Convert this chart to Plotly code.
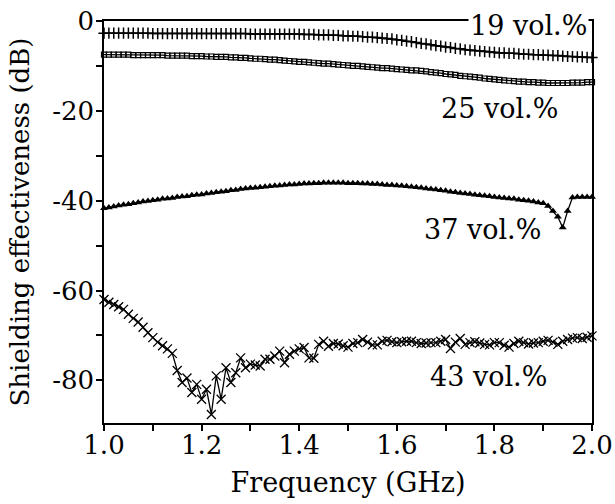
import plotly.graph_objects as go

freq = [round(1.0 + 0.01 * i, 2) for i in range(101)]

se_19 = [
    -2.7, -2.7, -2.7, -2.7, -2.7, -2.7, -2.7, -2.7, -2.7, -2.7,
    -2.8, -2.8, -2.8, -2.8, -2.8, -2.8, -2.8, -2.8, -2.8, -2.8,
    -2.8, -2.8, -2.8, -2.8, -2.8, -2.8, -2.8, -2.8, -2.8, -2.8,
    -2.9, -2.9, -2.9, -2.9, -2.9, -2.9, -2.9, -2.9, -2.9, -2.9,
    -2.9, -3.0, -3.0, -3.0, -3.1, -3.1, -3.1, -3.2, -3.2, -3.3,
    -3.3, -3.4, -3.4, -3.5, -3.6, -3.6, -3.7, -3.8, -3.9, -4.0,
    -4.2, -4.3, -4.5, -4.6, -4.8, -5.0, -5.1, -5.3, -5.5, -5.6,
    -5.8, -5.9, -6.1, -6.2, -6.4, -6.5, -6.6, -6.7, -6.8, -6.9,
    -7.0, -7.1, -7.1, -7.2, -7.2, -7.3, -7.4, -7.4, -7.5, -7.5,
    -7.6, -7.6, -7.7, -7.7, -7.8, -7.9, -7.9, -8.0, -8.0, -8.1,
    -8.1,
]

se_25 = [
    -7.5, -7.5, -7.5, -7.5, -7.5, -7.5, -7.6, -7.6, -7.6, -7.6,
    -7.6, -7.6, -7.6, -7.7, -7.7, -7.7, -7.7, -7.7, -7.8, -7.8,
    -7.8, -7.9, -7.9, -8.0, -8.0, -8.0, -8.1, -8.1, -8.2, -8.2,
    -8.3, -8.4, -8.4, -8.5, -8.6, -8.6, -8.7, -8.8, -8.9, -9.0,
    -9.1, -9.1, -9.2, -9.3, -9.4, -9.5, -9.5, -9.6, -9.7, -9.8,
    -9.9, -10.0, -10.0, -10.1, -10.2, -10.3, -10.4, -10.5, -10.5, -10.6,
    -10.7, -10.8, -10.9, -11.0, -11.0, -11.1, -11.2, -11.4, -11.5, -11.6,
    -11.8, -11.9, -12.0, -12.2, -12.3, -12.4, -12.5, -12.6, -12.8, -12.9,
    -13.0, -13.1, -13.2, -13.3, -13.4, -13.5, -13.5, -13.6, -13.6, -13.7,
    -13.7, -13.8, -13.8, -13.8, -13.8, -13.8, -13.7, -13.7, -13.7, -13.6,
    -13.6,
]

se_37 = [
    -41.7, -41.5, -41.3, -41.1, -40.9, -40.8, -40.6, -40.4, -40.2, -40.1,
    -39.9, -39.8, -39.6, -39.5, -39.4, -39.2, -39.1, -39.0, -38.8, -38.7,
    -38.6, -38.4, -38.3, -38.1, -38.0, -37.9, -37.7, -37.6, -37.4, -37.3,
    -37.2, -37.1, -37.0, -36.9, -36.8, -36.7, -36.6, -36.5, -36.4, -36.4,
    -36.3, -36.2, -36.2, -36.1, -36.1, -36.0, -36.0, -36.0, -36.0, -36.0,
    -36.1, -36.1, -36.1, -36.2, -36.2, -36.3, -36.3, -36.4, -36.5, -36.5,
    -36.6, -36.7, -36.8, -36.9, -37.0, -37.1, -37.3, -37.4, -37.5, -37.7,
    -37.8, -38.0, -38.1, -38.3, -38.4, -38.5, -38.7, -38.8, -38.9, -39.0,
    -39.2, -39.3, -39.4, -39.5, -39.6, -39.8, -39.9, -40.0, -40.2, -40.4,
    -40.6, -41.2, -42.3, -43.6, -46.0, -42.3, -39.3, -39.2, -39.2, -39.2,
    -39.2,
]

se_43 = [
    -62.0, -62.6, -63.1, -63.6, -64.2, -65.3, -66.2, -67.0, -68.2, -69.4,
    -70.5, -71.5, -72.3, -73.0, -74.0, -77.8, -80.5, -79.5, -82.7, -80.9,
    -84.2, -82.0, -87.6, -79.0, -84.2, -77.2, -80.5, -78.3, -75.0, -77.2,
    -76.4, -76.6, -76.8, -75.3, -75.3, -74.6, -73.5, -76.1, -74.2, -73.5,
    -73.0, -72.7, -75.0, -75.1, -72.0, -71.3, -72.4, -71.8, -71.9, -72.3,
    -72.6, -71.8, -71.6, -70.9, -71.5, -72.1, -72.1, -71.3, -71.1, -71.4,
    -71.6, -71.4, -71.3, -71.3, -71.6, -71.8, -71.7, -71.6, -71.6, -71.3,
    -70.9, -72.9, -71.5, -70.7, -72.0, -71.6, -71.4, -71.7, -72.0, -72.1,
    -71.6, -71.6, -72.2, -72.6, -71.8, -71.3, -71.6, -71.9, -71.7, -71.6,
    -71.3, -71.1, -71.5, -72.0, -71.3, -70.9, -70.6, -70.5, -70.7, -70.4,
    -70.1,
]

labels = ["19 vol.%", "25 vol.%", "37 vol.%", "43 vol.%"]
label_x = [1.869, 1.811, 1.775, 1.787]
label_y = [-1.1, -19.4, -46.5, -79.1]

x_ticks = [1.0, 1.2, 1.4, 1.6, 1.8, 2.0]
x_ticktext = ["1.0", "1.2", "1.4", "1.6", "1.8", "2.0"]
x_minor = [1.1, 1.3, 1.5, 1.7, 1.9]
y_ticks = [0, -20, -40, -60, -80]
y_ticktext = ["0", "-20", "-40", "-60", "-80"]
y_minor = [-10, -30, -50, -70]

FONT = "DejaVu Serif"

fig = go.Figure()

series = [
    (se_19, "cross-thin", 8, 1.5),
    (se_25, "square-open", 5, 1.2),
    (se_37, "triangle-up", 7, 0),
    (se_43, "x-thin", 9, 1.3),
]
for (vals, sym, size, lw), name in zip(series, labels):
    fig.add_trace(go.Scatter(
        x=freq, y=vals, mode="lines+markers", name=name,
        line=dict(color="black", width=1.3),
        marker=dict(symbol=sym, size=size, color="black",
                    line=dict(color="black", width=lw)),
        cliponaxis=False,
    ))

for t, xx, yy in zip(labels, label_x, label_y):
    fig.add_annotation(
        x=xx, y=yy, xref="x", yref="y", text=t, showarrow=False,
        xanchor="center", yanchor="middle",
        font=dict(family=FONT, size=27, color="black"),
        bgcolor="white", borderpad=1,
    )

fig.update_layout(
    width=615, height=504,
    margin=dict(l=104, r=23, t=21, b=81),
    paper_bgcolor="white", plot_bgcolor="white",
    showlegend=False,
    font=dict(family=FONT, color="black"),
)

fig.update_xaxes(
    range=[1.0, 2.0], tickvals=x_ticks, ticktext=x_ticktext,
    ticks="outside", ticklen=6, tickcolor="black", tickwidth=1.5,
    minor=dict(tickvals=x_minor, ticks="outside", ticklen=6, tickcolor="black", tickwidth=1.5),
    showline=True, linecolor="black", linewidth=1.5, mirror=True,
    showgrid=False, zeroline=False, automargin=False,
    ticklabelstandoff=-8, ticklabeloverflow="allow",
    tickfont=dict(family=FONT, size=26, color="black"),
    title=dict(text="Frequency (GHz)", font=dict(family=FONT, size=27, color="black"), standoff=14),
)
fig.update_yaxes(
    range=[-89.5, 0], tickvals=y_ticks, ticktext=y_ticktext,
    ticks="outside", ticklen=6, tickcolor="black", tickwidth=1.5,
    minor=dict(tickvals=y_minor, ticks="outside", ticklen=6, tickcolor="black", tickwidth=1.5),
    showline=True, linecolor="black", linewidth=1.5, mirror=True,
    showgrid=False, zeroline=False, automargin=False,
    ticklabelstandoff=-3, ticklabeloverflow="allow",
    tickfont=dict(family=FONT, size=26, color="black"),
    title=dict(text="Shielding effectiveness (dB)", font=dict(family=FONT, size=26, color="black"), standoff=15),
)

# remove the browser's default 8px body margin so the figure fills the window
fig.write_html("out.html", config={"displayModeBar": False},
               post_script="document.body.style.margin='0';")
